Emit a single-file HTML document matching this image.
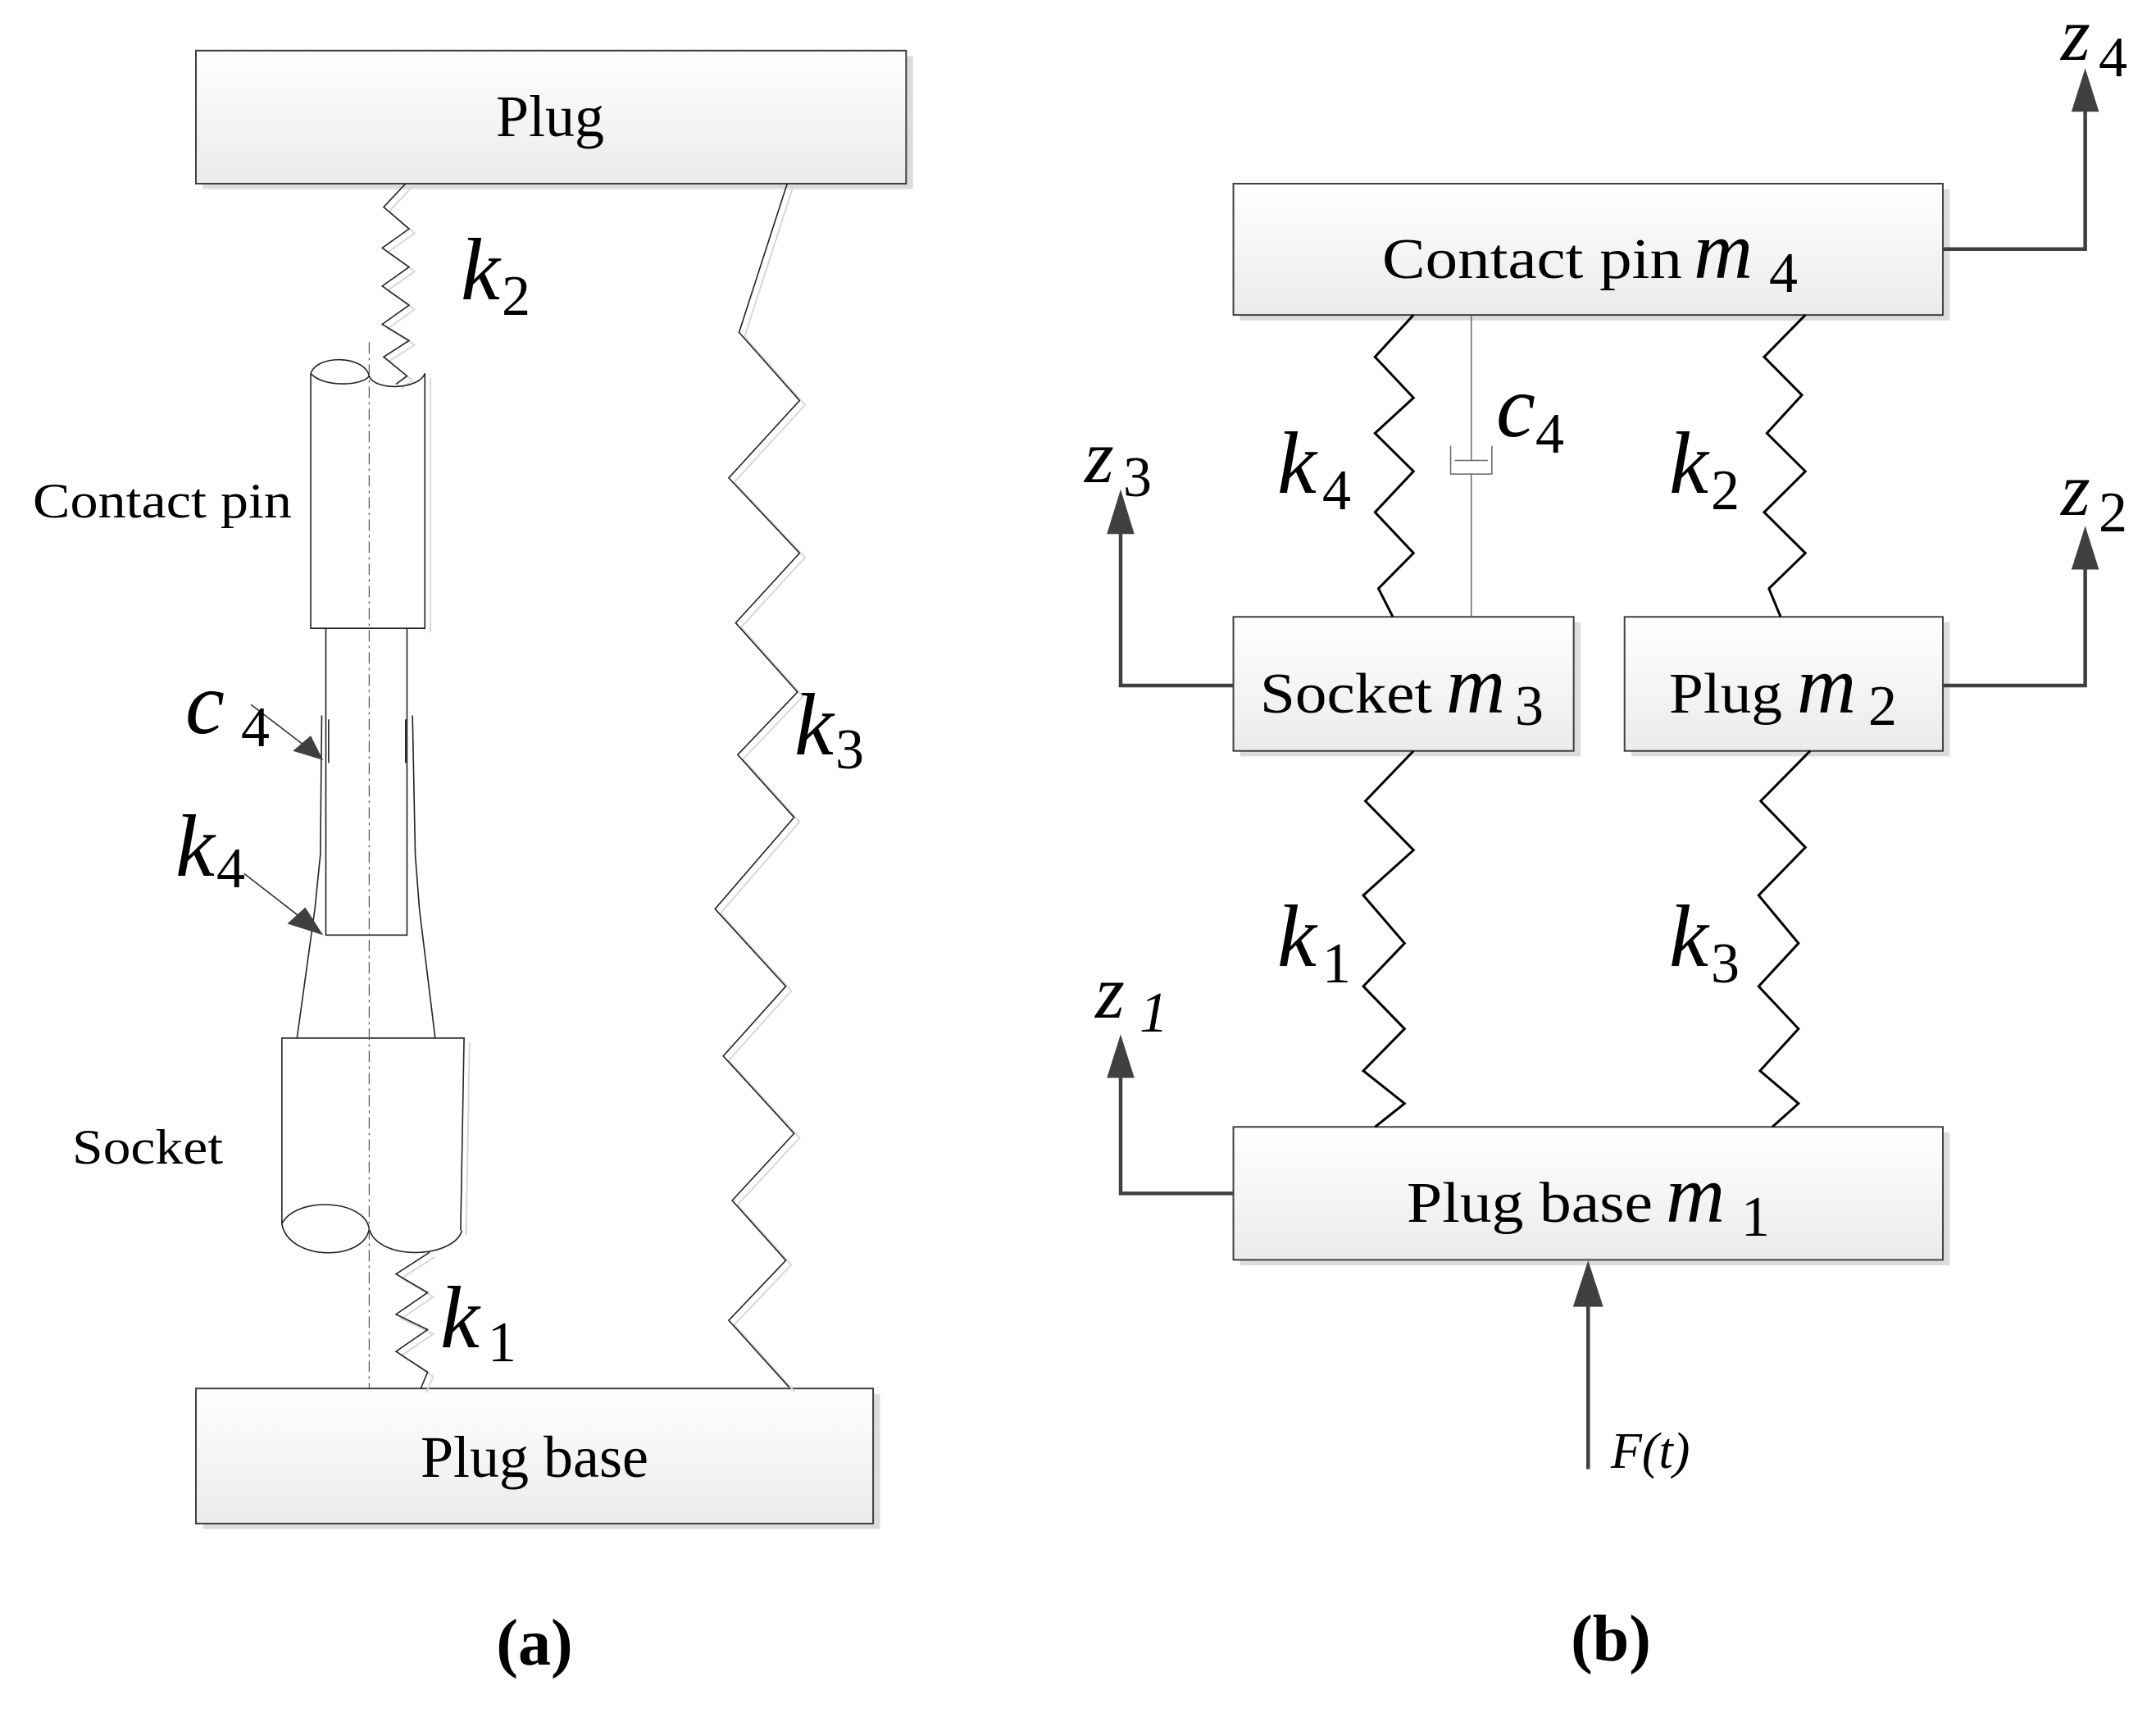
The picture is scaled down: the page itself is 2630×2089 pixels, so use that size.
<!DOCTYPE html>
<html><head><meta charset="utf-8"><style>
html,body{margin:0;padding:0;background:#fff;}
svg text{font-family:"Liberation Serif",serif;fill:#000;}
.i{font-style:italic;}
</style></head><body>
<svg width="2630" height="2084" viewBox="0 0 2630 2084" xmlns="http://www.w3.org/2000/svg">
<defs>
<linearGradient id="g" x1="0" y1="0" x2="0" y2="1"><stop offset="0" stop-color="#ffffff"/><stop offset="1" stop-color="#ebebeb"/></linearGradient>
</defs>
<rect width="2630" height="2084" fill="#fff"/>

<!-- LEFT PANEL shapes -->
<svg x="0" y="0" width="1315" height="2084" viewBox="0 0 1568 3136" preserveAspectRatio="none" overflow="visible">
<g fill="none" stroke-linejoin="miter">
 <!-- Plug box -->
 <rect x="295" y="103" width="1033" height="244" fill="#dcdcdc"/>
 <rect x="285" y="93" width="1033" height="244" fill="url(#g)" stroke="#404040" stroke-width="2" vector-effect="non-scaling-stroke"/>
 <!-- Plug base box -->
 <rect x="295" y="2558" width="985" height="248" fill="#dcdcdc"/>
 <rect x="285" y="2548" width="985" height="248" fill="url(#g)" stroke="#404040" stroke-width="2" vector-effect="non-scaling-stroke"/>
 <g stroke="#d8d8d8" stroke-width="2" vector-effect="non-scaling-stroke" transform="translate(8,8)">
  <polyline vector-effect="non-scaling-stroke" points="590,337 558,380 595,420 556,455 595,490 556,525 595,560 556,595 595,625 558,655 592,690 576,705"/>
  <polyline vector-effect="non-scaling-stroke" points="1145,337 1075,610 1163,735 1060,877 1163,1015 1070,1143 1160,1270 1073,1385 1155,1500 1040,1668 1143,1810 1052,1938 1155,2080 1065,2203 1143,2313 1060,2423 1148,2546"/>
  <polyline vector-effect="non-scaling-stroke" points="625,2298 576,2338 622,2372 576,2412 622,2440 576,2480 622,2518 612,2548"/>
  <path vector-effect="non-scaling-stroke" d="M618,685 V1153 M675,1905 L670,2258"/>
 </g>
 <g stroke="#222" stroke-width="1.6">
  <!-- k2 -->
  <polyline vector-effect="non-scaling-stroke" points="590,337 558,380 595,420 556,455 595,490 556,525 595,560 556,595 595,625 558,655 592,690 576,705"/>
  <!-- k3 -->
  <polyline vector-effect="non-scaling-stroke" points="1145,337 1075,610 1163,735 1060,877 1163,1015 1070,1143 1160,1270 1073,1385 1155,1500 1040,1668 1143,1810 1052,1938 1155,2080 1065,2203 1143,2313 1060,2423 1148,2546"/>
  <!-- k1 -->
  <polyline vector-effect="non-scaling-stroke" points="625,2298 576,2338 622,2372 576,2412 622,2440 576,2480 622,2518 612,2548"/>
  <!-- contact pin cylinder -->
  <path vector-effect="non-scaling-stroke" d="M452,685 V1153 H618 V685 M452,685 C462,650 530,652 537,690 C545,718 610,715 618,685 M452,685 C470,712 528,708 537,690"/>
  <!-- inner pin -->
  <path vector-effect="non-scaling-stroke" d="M474,1153 V1716 H592 V1153"/>
  <!-- sleeve -->
  <path vector-effect="non-scaling-stroke" d="M468,1313 L466,1568 L458,1668 L432,1905 M600,1313 L604,1568 L610,1668 L633,1905"/>
  <path vector-effect="non-scaling-stroke" d="M478,1320 V1400 M590,1320 V1400"/>
  <!-- socket cylinder -->
  <path vector-effect="non-scaling-stroke" d="M410,2246 V1905 H675 L670,2258"/>
  <path vector-effect="non-scaling-stroke" d="M410,2246 C430,2195 530,2200 537,2255 M410,2246 C420,2315 530,2315 537,2255 C550,2315 660,2310 672,2258"/>
  <!-- centre line -->
  <line vector-effect="non-scaling-stroke" x1="537" y1="628" x2="537" y2="2548" stroke="#555" stroke-width="1.2" stroke-dasharray="14 5 3 5"/>
  <!-- leader arrows -->
  <line vector-effect="non-scaling-stroke" x1="365" y1="1293" x2="450" y2="1375" stroke="#333"/>
  <line vector-effect="non-scaling-stroke" x1="355" y1="1603" x2="450" y2="1696" stroke="#333"/>
 </g>
 <polygon points="470,1395 426,1378 452,1350" fill="#404040"/>
 <polygon points="470,1716 418,1695 444,1665" fill="#404040"/>
</g>
</svg>

<!-- RIGHT PANEL shapes -->
<svg x="1315" y="0" width="1315" height="2084" viewBox="0 0 1568 3136" preserveAspectRatio="none" overflow="visible">
<g fill="none">
 <rect x="236" y="347" width="1032" height="241" fill="#dcdcdc"/>
 <rect x="226" y="337" width="1032" height="241" fill="url(#g)" stroke="#404040" stroke-width="2" vector-effect="non-scaling-stroke"/>
 <rect x="236" y="1142" width="495" height="246" fill="#dcdcdc"/>
 <rect x="226" y="1132" width="495" height="246" fill="url(#g)" stroke="#404040" stroke-width="2" vector-effect="non-scaling-stroke"/>
 <rect x="805" y="1142" width="463" height="246" fill="#dcdcdc"/>
 <rect x="795" y="1132" width="463" height="246" fill="url(#g)" stroke="#404040" stroke-width="2" vector-effect="non-scaling-stroke"/>
 <rect x="236" y="2078" width="1032" height="244" fill="#dcdcdc"/>
 <rect x="226" y="2068" width="1032" height="244" fill="url(#g)" stroke="#404040" stroke-width="2" vector-effect="non-scaling-stroke"/>
 <g stroke="#000" stroke-width="3">
  <polyline vector-effect="non-scaling-stroke" points="488,578 432,655 488,730 432,795 488,865 432,940 488,1015 437,1080 458,1132"/>
  <polyline vector-effect="non-scaling-stroke" points="1058,578 998,655 1053,725 1002,795 1058,865 998,940 1058,1015 1005,1080 1022,1132"/>
  <polyline vector-effect="non-scaling-stroke" points="488,1378 418,1470 488,1560 415,1643 475,1731 415,1810 475,1888 415,1965 475,2025 432,2068"/>
  <polyline vector-effect="non-scaling-stroke" points="1065,1378 993,1470 1058,1555 990,1643 1048,1731 990,1810 1048,1888 992,1965 1048,2025 1010,2068"/>
 </g>
 <!-- damper -->
 <g stroke="#666" stroke-width="1.5">
  <path vector-effect="non-scaling-stroke" d="M572,578 V845 M542,818 V870 H602 V818 M548,845 H596 M572,870 V1132"/>
 </g>
 <!-- arrows -->
 <g stroke="#404040" stroke-width="4.5" stroke-linejoin="miter">
  <polyline vector-effect="non-scaling-stroke" points="1258,457 1465,457 1465,200"/>
  <polyline vector-effect="non-scaling-stroke" points="226,1258 62,1258 62,975"/>
  <polyline vector-effect="non-scaling-stroke" points="1258,1258 1465,1258 1465,1040"/>
  <polyline vector-effect="non-scaling-stroke" points="226,2190 62,2190 62,1973"/>
  <polyline vector-effect="non-scaling-stroke" points="742,2696 742,2393"/>
 </g>
 <g fill="#404040">
  <polygon points="1445,205 1485,205 1465,125"/>
  <polygon points="42,980 82,980 62,898"/>
  <polygon points="1445,1045 1485,1045 1465,965"/>
  <polygon points="42,1978 82,1978 62,1898"/>
  <polygon points="720,2398 764,2398 742,2313"/>
 </g>
</g>
</svg>

<!-- LEFT TEXT -->
<text x="671" y="166" font-size="72" text-anchor="middle">Plug</text>
<text x="40" y="631" font-size="60" textLength="316" lengthAdjust="spacingAndGlyphs">Contact pin</text>
<text x="562" y="365" font-size="108" class="i">k</text><text x="612" y="384" font-size="70">2</text>
<text x="969" y="920" font-size="108" class="i">k</text><text x="1019" y="937" font-size="70">3</text>
<text x="226" y="894" font-size="108" class="i">c</text><text x="294" y="910" font-size="70">4</text>
<text x="214" y="1068" font-size="108" class="i">k</text><text x="264" y="1082" font-size="70">4</text>
<text x="88" y="1419" font-size="60" textLength="184" lengthAdjust="spacingAndGlyphs">Socket</text>
<text x="537" y="1643" font-size="108" class="i">k</text><text x="595" y="1660" font-size="70">1</text>
<text x="652" y="1801" font-size="72" text-anchor="middle">Plug base</text>
<text x="652" y="2030" font-size="80" font-weight="bold" text-anchor="middle">(a)</text>

<!-- RIGHT TEXT -->
<text x="1686" y="339" font-size="70" textLength="366" lengthAdjust="spacingAndGlyphs">Contact pin</text>
<text x="2066" y="339" font-size="100" class="i">m</text><text x="2158" y="356" font-size="70">4</text>
<text x="2514" y="73" font-size="92" class="i">z</text><text x="2560" y="93" font-size="70">4</text>
<text x="1825" y="532" font-size="108" class="i">c</text><text x="1873" y="552" font-size="70">4</text>
<text x="1558" y="601" font-size="108" class="i">k</text><text x="1613" y="621" font-size="70">4</text>
<text x="2036" y="601" font-size="108" class="i">k</text><text x="2087" y="621" font-size="70">2</text>
<text x="1323" y="588" font-size="92" class="i">z</text><text x="1370" y="605" font-size="70">3</text>
<text x="2514" y="628" font-size="92" class="i">z</text><text x="2560" y="648" font-size="70">2</text>
<text x="1537" y="869" font-size="70" textLength="210" lengthAdjust="spacingAndGlyphs">Socket</text>
<text x="1764" y="869" font-size="100" class="i">m</text><text x="1848" y="884" font-size="70">3</text>
<text x="2036" y="869" font-size="70" textLength="138" lengthAdjust="spacingAndGlyphs">Plug</text>
<text x="2192" y="869" font-size="100" class="i">m</text><text x="2279" y="884" font-size="70">2</text>
<text x="1558" y="1178" font-size="108" class="i">k</text><text x="1613" y="1198" font-size="70">1</text>
<text x="2036" y="1178" font-size="108" class="i">k</text><text x="2087" y="1198" font-size="70">3</text>
<text x="1716" y="1490" font-size="70" textLength="300" lengthAdjust="spacingAndGlyphs">Plug base</text>
<text x="2032" y="1490" font-size="100" class="i">m</text><text x="2124" y="1507" font-size="70">1</text>
<text x="1336" y="1241" font-size="92" class="i">z</text><text x="1390" y="1258" font-size="70" class="i">1</text>
<text x="1965" y="1790" font-size="62" class="i">F(t)</text>
<text x="1965" y="2025" font-size="80" font-weight="bold" text-anchor="middle">(b)</text>
</svg>
</body></html>
